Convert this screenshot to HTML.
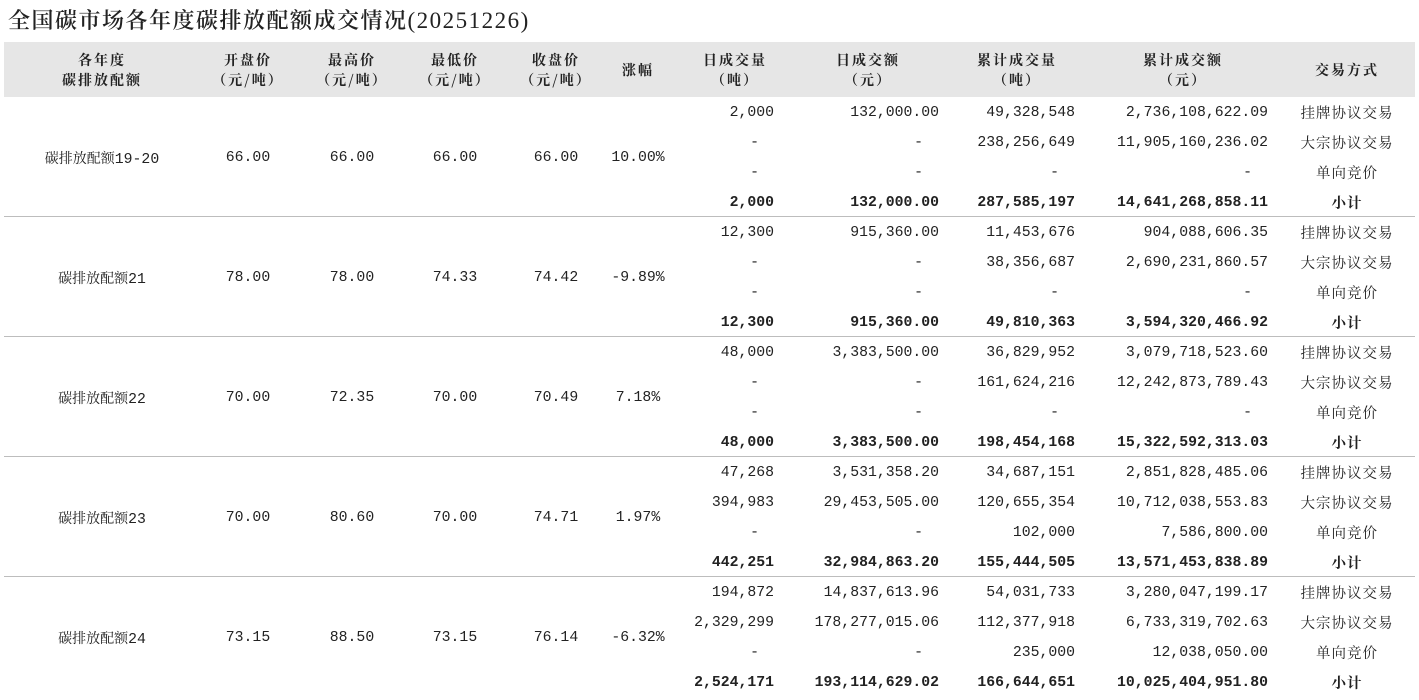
<!DOCTYPE html>
<html><head><meta charset="utf-8"><style>
body{margin:0;width:1419px;height:700px;background:#fff;position:relative;overflow:hidden;font-family:"Liberation Serif","Noto Serif CJK SC",serif;color:#222}
.t{position:absolute;left:8px;top:5px;font-size:22px;line-height:30px;font-family:"Noto Serif CJK SC",serif;font-weight:600;letter-spacing:1.5px}
.t .d{font-family:"Liberation Serif",serif;font-weight:normal;font-size:23px;letter-spacing:1.5px}
.hd{position:absolute;left:4px;top:42px;width:1411px;height:55px;background:#e6e6e6}
.h{position:absolute;top:50px;width:140px;text-align:center;font-size:14px;line-height:20px;font-weight:bold;font-family:"Noto Serif CJK SC",serif;letter-spacing:2px}
.r{position:absolute;left:0;width:1419px;height:20px;line-height:20px;font-size:15px}
.r span{position:absolute;white-space:nowrap}
.n{font-family:"Liberation Mono",monospace;font-size:14.8px}
.a{right:645px}.b{right:480px}.c{right:344px}.d{right:151px}
.ax{right:660px}.bx{right:496px}.cx{right:360px}.dx{right:167px}
.e{left:1297px;width:100px;text-align:center;font-family:"Noto Serif CJK SC",serif;font-size:14.5px;letter-spacing:1px}
.B{font-weight:bold}
.g{position:absolute;left:0;width:1419px;height:20px;line-height:20px;font-size:15px}
.g span{position:absolute;width:140px;text-align:center;white-space:nowrap}
.ln{position:absolute;left:4px;width:1411px;height:1px;background:#bdbdbd}
</style></head><body>
<div class="t">全国碳市场各年度碳排放配额成交情况<span class="d">(20251226)</span></div>
<div class="hd"></div>
<div class="h" style="left:32px">各年度<br>碳排放配额</div>
<div class="h" style="left:178px">开盘价<br>（元/吨）</div>
<div class="h" style="left:282px">最高价<br>（元/吨）</div>
<div class="h" style="left:385px">最低价<br>（元/吨）</div>
<div class="h" style="left:486px">收盘价<br>（元/吨）</div>
<div class="h" style="left:568px;top:60px">涨幅</div>
<div class="h" style="left:665px">日成交量<br>（吨）</div>
<div class="h" style="left:798px">日成交额<br>（元）</div>
<div class="h" style="left:947px">累计成交量<br>（吨）</div>
<div class="h" style="left:1113px">累计成交额<br>（元）</div>
<div class="h" style="left:1277px;top:60px">交易方式</div>

<div class="g" style="top:148px"><span style="left:32px;font-family:'Noto Serif CJK SC',serif;font-size:14px">碳排放配额<span class="n" style="position:static">19-20</span></span><span class="n" style="left:178px">66.00</span><span class="n" style="left:282px">66.00</span><span class="n" style="left:385px">66.00</span><span class="n" style="left:486px">66.00</span><span class="n" style="left:568px">10.00%</span></div>
<div class="r n" style="top:103px"><span class="a">2,000</span><span class="b">132,000.00</span><span class="c">49,328,548</span><span class="d">2,736,108,622.09</span><span class="e">挂牌协议交易</span></div>
<div class="r n" style="top:133px"><span class="ax">-</span><span class="bx">-</span><span class="c">238,256,649</span><span class="d">11,905,160,236.02</span><span class="e">大宗协议交易</span></div>
<div class="r n" style="top:163px"><span class="ax">-</span><span class="bx">-</span><span class="cx">-</span><span class="dx">-</span><span class="e">单向竞价</span></div>
<div class="r n B" style="top:193px"><span class="a">2,000</span><span class="b">132,000.00</span><span class="c">287,585,197</span><span class="d">14,641,268,858.11</span><span class="e">小计</span></div>
<div class="ln" style="top:216px"></div>

<div class="g" style="top:268px"><span style="left:32px;font-family:'Noto Serif CJK SC',serif;font-size:14px">碳排放配额<span class="n" style="position:static">21</span></span><span class="n" style="left:178px">78.00</span><span class="n" style="left:282px">78.00</span><span class="n" style="left:385px">74.33</span><span class="n" style="left:486px">74.42</span><span class="n" style="left:568px">-9.89%</span></div>
<div class="r n" style="top:223px"><span class="a">12,300</span><span class="b">915,360.00</span><span class="c">11,453,676</span><span class="d">904,088,606.35</span><span class="e">挂牌协议交易</span></div>
<div class="r n" style="top:253px"><span class="ax">-</span><span class="bx">-</span><span class="c">38,356,687</span><span class="d">2,690,231,860.57</span><span class="e">大宗协议交易</span></div>
<div class="r n" style="top:283px"><span class="ax">-</span><span class="bx">-</span><span class="cx">-</span><span class="dx">-</span><span class="e">单向竞价</span></div>
<div class="r n B" style="top:313px"><span class="a">12,300</span><span class="b">915,360.00</span><span class="c">49,810,363</span><span class="d">3,594,320,466.92</span><span class="e">小计</span></div>
<div class="ln" style="top:336px"></div>

<div class="g" style="top:388px"><span style="left:32px;font-family:'Noto Serif CJK SC',serif;font-size:14px">碳排放配额<span class="n" style="position:static">22</span></span><span class="n" style="left:178px">70.00</span><span class="n" style="left:282px">72.35</span><span class="n" style="left:385px">70.00</span><span class="n" style="left:486px">70.49</span><span class="n" style="left:568px">7.18%</span></div>
<div class="r n" style="top:343px"><span class="a">48,000</span><span class="b">3,383,500.00</span><span class="c">36,829,952</span><span class="d">3,079,718,523.60</span><span class="e">挂牌协议交易</span></div>
<div class="r n" style="top:373px"><span class="ax">-</span><span class="bx">-</span><span class="c">161,624,216</span><span class="d">12,242,873,789.43</span><span class="e">大宗协议交易</span></div>
<div class="r n" style="top:403px"><span class="ax">-</span><span class="bx">-</span><span class="cx">-</span><span class="dx">-</span><span class="e">单向竞价</span></div>
<div class="r n B" style="top:433px"><span class="a">48,000</span><span class="b">3,383,500.00</span><span class="c">198,454,168</span><span class="d">15,322,592,313.03</span><span class="e">小计</span></div>
<div class="ln" style="top:456px"></div>

<div class="g" style="top:508px"><span style="left:32px;font-family:'Noto Serif CJK SC',serif;font-size:14px">碳排放配额<span class="n" style="position:static">23</span></span><span class="n" style="left:178px">70.00</span><span class="n" style="left:282px">80.60</span><span class="n" style="left:385px">70.00</span><span class="n" style="left:486px">74.71</span><span class="n" style="left:568px">1.97%</span></div>
<div class="r n" style="top:463px"><span class="a">47,268</span><span class="b">3,531,358.20</span><span class="c">34,687,151</span><span class="d">2,851,828,485.06</span><span class="e">挂牌协议交易</span></div>
<div class="r n" style="top:493px"><span class="a">394,983</span><span class="b">29,453,505.00</span><span class="c">120,655,354</span><span class="d">10,712,038,553.83</span><span class="e">大宗协议交易</span></div>
<div class="r n" style="top:523px"><span class="ax">-</span><span class="bx">-</span><span class="c">102,000</span><span class="d">7,586,800.00</span><span class="e">单向竞价</span></div>
<div class="r n B" style="top:553px"><span class="a">442,251</span><span class="b">32,984,863.20</span><span class="c">155,444,505</span><span class="d">13,571,453,838.89</span><span class="e">小计</span></div>
<div class="ln" style="top:576px"></div>

<div class="g" style="top:628px"><span style="left:32px;font-family:'Noto Serif CJK SC',serif;font-size:14px">碳排放配额<span class="n" style="position:static">24</span></span><span class="n" style="left:178px">73.15</span><span class="n" style="left:282px">88.50</span><span class="n" style="left:385px">73.15</span><span class="n" style="left:486px">76.14</span><span class="n" style="left:568px">-6.32%</span></div>
<div class="r n" style="top:583px"><span class="a">194,872</span><span class="b">14,837,613.96</span><span class="c">54,031,733</span><span class="d">3,280,047,199.17</span><span class="e">挂牌协议交易</span></div>
<div class="r n" style="top:613px"><span class="a">2,329,299</span><span class="b">178,277,015.06</span><span class="c">112,377,918</span><span class="d">6,733,319,702.63</span><span class="e">大宗协议交易</span></div>
<div class="r n" style="top:643px"><span class="ax">-</span><span class="bx">-</span><span class="c">235,000</span><span class="d">12,038,050.00</span><span class="e">单向竞价</span></div>
<div class="r n B" style="top:673px"><span class="a">2,524,171</span><span class="b">193,114,629.02</span><span class="c">166,644,651</span><span class="d">10,025,404,951.80</span><span class="e">小计</span></div>
</body></html>
